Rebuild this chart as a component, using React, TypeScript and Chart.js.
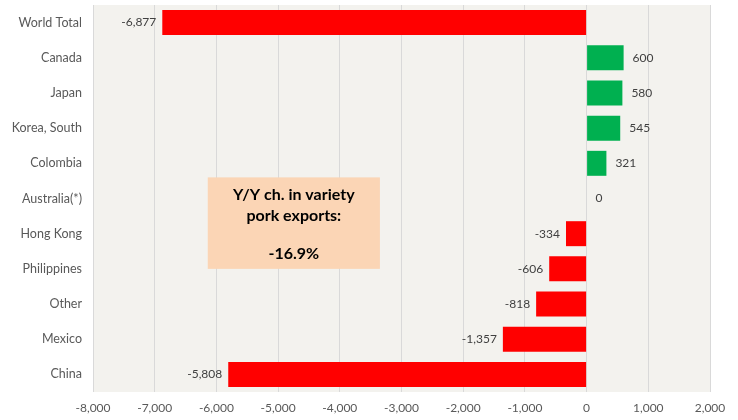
import React, { useEffect, useRef } from "react";
import { Chart, registerables } from "chart.js";

Chart.register(...registerables);

const categories = [
  "World Total",
  "Canada",
  "Japan",
  "Korea, South",
  "Colombia",
  "Australia(*)",
  "Hong Kong",
  "Philippines",
  "Other",
  "Mexico",
  "China",
];
const values = [-6877, 600, 580, 545, 321, 0, -334, -606, -818, -1357, -5808];
const xTicks = [-8000, -7000, -6000, -5000, -4000, -3000, -2000, -1000, 0, 1000, 2000];
const boxLines = ["Y/Y ch. in variety", "pork exports:", "-16.9%"];

const FONT = "Lato, 'Open Sans', sans-serif";
const fmt = (v: number) => v.toLocaleString("en-US");

const bgPlugin = {
  id: "bg",
  beforeDraw(chart: any) {
    const { ctx, chartArea } = chart;
    ctx.save();
    ctx.fillStyle = "#F3F2EE";
    ctx.fillRect(chartArea.left, chartArea.top, chartArea.right - chartArea.left, chartArea.bottom - chartArea.top);
    ctx.restore();
  },
};

const labelPlugin = {
  id: "vlabels",
  afterDatasetsDraw(chart: any) {
    const { ctx } = chart;
    const meta = chart.getDatasetMeta(0);
    ctx.save();
    ctx.font = `12px ${FONT}`;
    ctx.fillStyle = "#404040";
    ctx.textBaseline = "middle";
    meta.data.forEach((bar: any, i: number) => {
      const v = values[i];
      if (v < 0) {
        ctx.textAlign = "right";
        ctx.fillText(fmt(v), bar.x - 6, bar.y);
      } else {
        ctx.textAlign = "left";
        ctx.fillText(fmt(v), bar.x + 9, bar.y);
      }
    });
    ctx.restore();
  },
};

const boxPlugin = {
  id: "box",
  afterDraw(chart: any) {
    const { ctx, scales } = chart;
    const x = scales.x;
    const y = scales.y;
    const left = x.getPixelForValue(-6140);
    const right = x.getPixelForValue(-3350);
    const rowH = y.getPixelForValue(1) - y.getPixelForValue(0);
    const top = y.getPixelForValue(4) + rowH * 0.4;
    const bottom = y.getPixelForValue(7);
    ctx.save();
    ctx.fillStyle = "#FBD5B5";
    ctx.fillRect(left, top, right - left, bottom - top);
    ctx.fillStyle = "#000000";
    ctx.font = `bold 16px ${FONT}`;
    ctx.textAlign = "center";
    ctx.textBaseline = "middle";
    const cx = (left + right) / 2;
    ctx.fillText(boxLines[0], cx, top + 17);
    ctx.fillText(boxLines[1], cx, top + 38);
    ctx.fillText(boxLines[2], cx, top + 76);
    ctx.restore();
  },
};

export default function App() {
  const ref = useRef<HTMLCanvasElement>(null);
  useEffect(() => {
    document.body.style.margin = "0";
    const chart = new Chart(ref.current!, {
      type: "bar",
      data: {
        labels: categories,
        datasets: [
          {
            data: values,
            backgroundColor: values.map((v) => (v < 0 ? "#FF0000" : "#00B050")),
            borderWidth: 0,
            categoryPercentage: 1,
            barPercentage: 0.71,
          },
        ],
      },
      options: {
        indexAxis: "y",
        animation: false,
        responsive: false,
        maintainAspectRatio: false,
        layout: { padding: { top: 5, right: 28, bottom: 4, left: 0 } },
        plugins: { legend: { display: false }, tooltip: { enabled: false } },
        scales: {
          x: {
            min: -8000,
            max: 2000,
            afterBuildTicks: (axis: any) => {
              axis.ticks = xTicks.map((v) => ({ value: v }));
            },
            afterFit: (axis: any) => {
              axis.height = 24;
              axis.paddingLeft = 0;
              axis.paddingRight = 0;
            },
            grid: { color: "#D9D9D9", drawTicks: false, lineWidth: 1 },
            border: { display: false },
            ticks: {
              padding: 9,
              color: "#595959",
              font: { family: FONT, size: 12 },
              callback: (v: any) => fmt(Number(v)),
              maxRotation: 0,
              autoSkip: false,
            },
          },
          y: {
            grid: { display: false, drawTicks: false },
            border: { display: false },
            afterFit: (axis: any) => {
              axis.width = 93;
              axis.paddingTop = 0;
              axis.paddingBottom = 0;
            },
            ticks: {
              padding: 11,
              color: "#595959",
              font: { family: FONT, size: 12.5 },
              autoSkip: false,
            },
          },
        },
      },
      plugins: [bgPlugin, labelPlugin, boxPlugin],
    });
    return () => chart.destroy();
  }, []);
  return (
    <div style={{ width: 738, height: 420, background: "#fff" }}>
      <canvas ref={ref} width={738} height={420} />
    </div>
  );
}
